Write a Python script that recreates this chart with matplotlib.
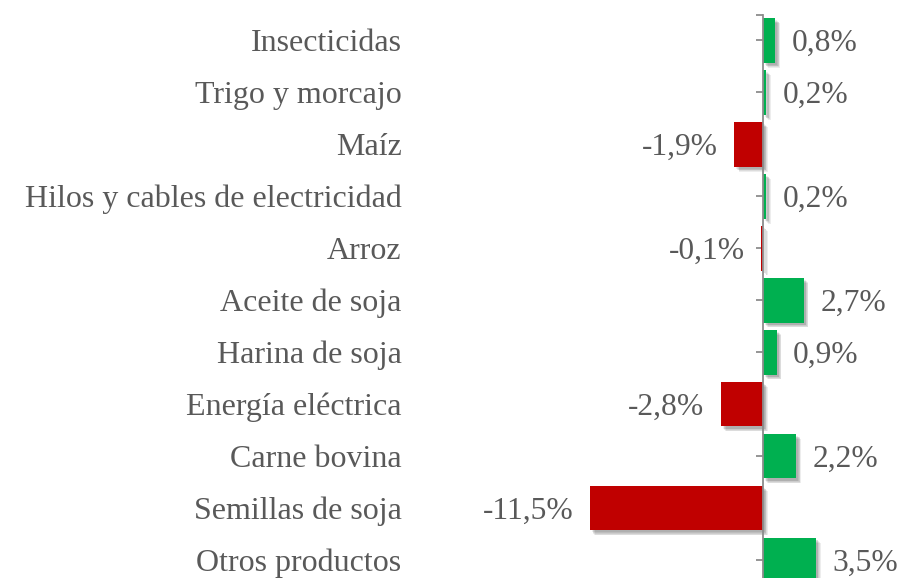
import matplotlib
matplotlib.use("Agg")
import matplotlib.pyplot as plt
import matplotlib.patheffects as pe
import matplotlib.transforms as mtransforms

categories = ["Insecticidas", "Trigo y morcajo", "Maíz", "Hilos y cables de electricidad",
              "Arroz", "Aceite de soja", "Harina de soja", "Energía eléctrica",
              "Carne bovina", "Semillas de soja", "Otros productos"]
values = [0.8, 0.2, -1.9, 0.2, -0.1, 2.7, 0.9, -2.8, 2.2, -11.5, 3.5]

GREEN = "#00B050"
RED = "#C00000"
TXT = "#595959"
AX = "#8C8C8C"
FS = 22.7
FS_CAT = 23.0

W, H = 899, 578
fig = plt.figure(figsize=(W / 100, H / 100), dpi=100)
plt.rcParams["font.family"] = ["Liberation Serif", "DejaVu Serif"]

# axes placement in pixels
left_px, right_px = 420, 899
top_px, bot_px = 14.5, 586
zero_px = 763
scale = 15.05  # px per unit
ax = fig.add_axes([left_px / W, 1 - bot_px / H, (right_px - left_px) / W, (bot_px - top_px) / H])
ax.set_xlim((left_px - zero_px) / scale, (right_px - zero_px) / scale)

n = len(categories)
ys = list(range(n))[::-1]
ax.set_ylim(-0.5, n - 0.5)

colors = [GREEN if v >= 0 else RED for v in values]
bars = ax.barh(ys, values, height=0.86, color=colors, zorder=2)
shadow = [pe.SimplePatchShadow(offset=(o, -o), shadow_rgbFace="#000000", alpha=0.07)
          for o in (3.5, 3.0, 2.5, 2.0, 1.5)]
for b in bars:
    b.set_path_effects(shadow + [pe.Normal()])

DY = -7.6  # baseline offset in points below bar centre
for y, v in zip(ys, values):
    lab = f"{v:.1f}".replace(".", ",") + "%"
    if v >= 0:
        ax.annotate(lab, (v, y), xytext=(12, DY), textcoords="offset points",
                    ha="left", va="baseline", fontsize=FS, color=TXT)
    else:
        ax.annotate(lab, (v, y), xytext=(-12, DY), textcoords="offset points",
                    ha="right", va="baseline", fontsize=FS, color=TXT)

trans = mtransforms.blended_transform_factory(fig.transFigure, ax.transData)
for y, c in zip(ys, categories):
    ax.annotate(c, (401.5 / W, y), xycoords=trans, xytext=(0, DY), textcoords="offset points",
                ha="right", va="baseline", fontsize=FS_CAT, color=TXT)

for s in ["top", "right", "bottom"]:
    ax.spines[s].set_visible(False)
ax.spines["left"].set_position(("data", 0))
ax.spines["left"].set_color(AX)
ax.spines["left"].set_linewidth(1.3)
ax.spines["left"].set_zorder(3)
ax.set_yticks(ys + [n - 0.5])
ax.set_yticklabels([])
ax.tick_params(axis="y", length=5, width=1.3, color=AX, direction="out")
ax.set_xticks([])

fig.savefig("out.png", dpi=100)
